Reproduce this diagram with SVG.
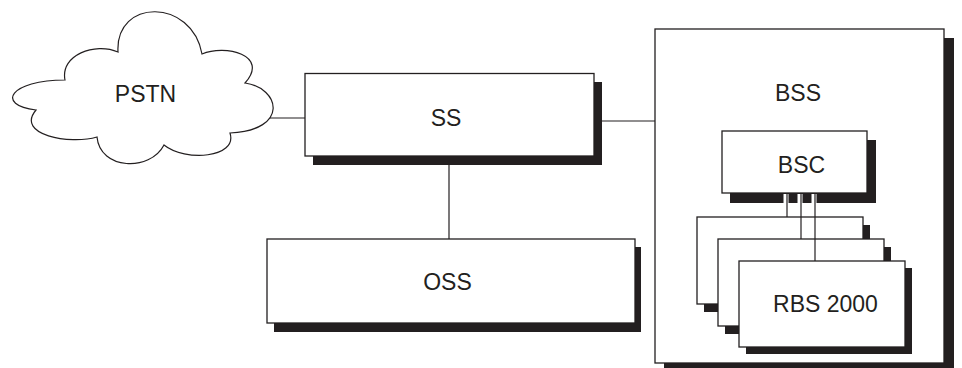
<svg xmlns="http://www.w3.org/2000/svg" width="962" height="368" viewBox="0 0 962 368">
<style>
.box{fill:#fff;stroke:#231f20;stroke-width:1.3}
.sh{fill:#231f20}
.ln{stroke:#231f20;stroke-width:1.2;fill:none}
.halo{stroke:#fff;stroke-width:5;fill:none}
.t{font-family:"Liberation Sans",Arial,sans-serif;font-size:23px;fill:#231f20;text-anchor:middle}
</style>
<rect width="962" height="368" fill="#fff"/>
<g id="connectors">
<line class="ln" x1="268" y1="118" x2="305" y2="118"/>
<line class="ln" x1="602" y1="121" x2="655" y2="121"/>
<line class="ln" x1="449" y1="165" x2="449" y2="239"/>
</g>
<g id="pstn">
<path class="ln" stroke-width="1.3" fill="#fff" d="M65 80 C60 55 95 42 118 52 C115 -2 192 -2 202 54 C225 44 270 55 245 83 C280 88 290 130 230 133 C238 158 185 162 164 145 C150 172 100 170 97 137 C70 145 15 135 36 110 C-5 105 10 80 65 80 Z" style="fill:#fff"/>
<text class="t" x="145.5" y="102">PSTN</text>
</g>
<g id="ss">
<rect class="sh" x="313" y="82" width="289" height="83"/>
<rect class="box" x="305" y="73.5" width="289" height="82.5"/>
<text class="t" x="446" y="126">SS</text>
</g>
<g id="oss">
<rect class="sh" x="274" y="247" width="367" height="85"/>
<rect class="box" x="267" y="239" width="368" height="84"/>
<text class="t" x="447.5" y="290">OSS</text>
</g>
<g id="bss">
<rect class="sh" x="664" y="38" width="290" height="330"/>
<rect class="box" x="655" y="29" width="289" height="334"/>
<text class="t" x="798" y="101">BSS</text>
</g>
<g id="bsc">
<rect class="sh" x="730" y="140" width="146" height="63"/>
<rect class="box" x="722" y="131" width="145" height="62"/>
<text class="t" x="801.5" y="172.5">BSC</text>
</g>
<g id="rbs1">
<rect class="sh" x="704" y="225" width="166" height="87"/>
<rect class="box" x="697" y="217" width="166" height="87"/>
</g>
<g id="rbs2">
<rect class="sh" x="725" y="247" width="166" height="87"/>
<rect class="box" x="718" y="239" width="166" height="87"/>
</g>
<g id="rbs3">
<rect class="sh" x="746" y="268" width="166" height="86"/>
<rect class="box" x="739" y="261" width="166" height="86"/>
<text class="t" x="825.5" y="312">RBS 2000</text>
</g>
<g id="bsc-rbs-connectors">
<line class="halo" x1="786" y1="194" x2="786" y2="216"/>
<line class="halo" x1="800" y1="194" x2="800" y2="216"/>
<line class="halo" x1="814" y1="194" x2="814" y2="216"/>
<line class="ln" x1="787" y1="193" x2="787" y2="217"/>
<line class="ln" x1="801" y1="193" x2="801" y2="239"/>
<line class="ln" x1="815" y1="193" x2="815" y2="261"/>
</g>
</svg>
